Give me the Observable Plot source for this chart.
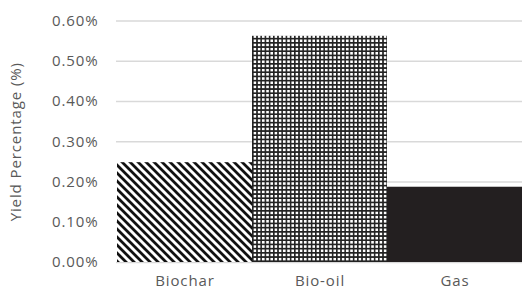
<!DOCTYPE html>
<html>
<head>
<meta charset="utf-8">
<script src="https://cdn.jsdelivr.net/npm/d3@7"></script>
<script src="https://cdn.jsdelivr.net/npm/@observablehq/plot@0.6"></script>
<style>
  html, body { margin: 0; padding: 0; background: #fff; }
</style>
</head>
<body>
<div id="chart"></div>
<script>
const categories = ["Biochar", "Bio-oil", "Gas"];
const yields = [0.248, 0.562, 0.187]; // percent
const fills = ["url(#diag)", "url(#grid)", "#231f20"];
const yTicks = [0, 0.1, 0.2, 0.3, 0.4, 0.5, 0.6];

const data = categories.map((c, i) => ({category: c, value: yields[i]}));

const chart = Plot.plot({
  width: 522,
  height: 291,
  marginLeft: 116,
  marginRight: 0,
  marginTop: 20.5,
  marginBottom: 29,
  style: {fontFamily: "'Open Sans', sans-serif", fontSize: "15px", color: "#595959", background: "#fff", letterSpacing: "0.9px"},
  x: {domain: categories, padding: 0},
  y: {domain: [0, 0.6]},
  color: {domain: categories, range: fills},
  marks: [
    Plot.gridY(yTicks, {stroke: "#d9d9d9", strokeOpacity: 1, strokeWidth: 1.3}),
    Plot.barY(data, {x: "category", y: "value", fill: "category"}),
    Plot.axisY(yTicks, {tickSize: 0, tickPadding: 18, tickFormat: d => d.toFixed(2) + "%",
      label: "Yield Percentage (%)", labelAnchor: "center", labelArrow: "none", labelOffset: 106}),
    Plot.axisX({tickSize: 0, tickPadding: 13, label: null})
  ]
});

const svg = d3.select(chart);
const defs = svg.insert("defs", ":first-child");
const diag = defs.append("pattern").attr("id", "diag").attr("patternUnits", "userSpaceOnUse")
  .attr("width", 8).attr("height", 8);
diag.append("rect").attr("width", 8).attr("height", 8).attr("fill", "#fff");
diag.append("path").attr("d", "M-2,-2L10,10M-2,6L2,10M6,-2L10,2")
  .attr("stroke", "#111").attr("stroke-width", 2.8);
const grid = defs.append("pattern").attr("id", "grid").attr("patternUnits", "userSpaceOnUse")
  .attr("width", 4.2).attr("height", 4.2);
grid.append("rect").attr("width", 4.2).attr("height", 4.2).attr("fill", "#fff");
grid.append("path").attr("d", "M0.8,0V4.2M0,0.8H4.2")
  .attr("stroke", "#222").attr("stroke-width", 1.6);

document.getElementById("chart").appendChild(chart);
</script>
</body>
</html>
